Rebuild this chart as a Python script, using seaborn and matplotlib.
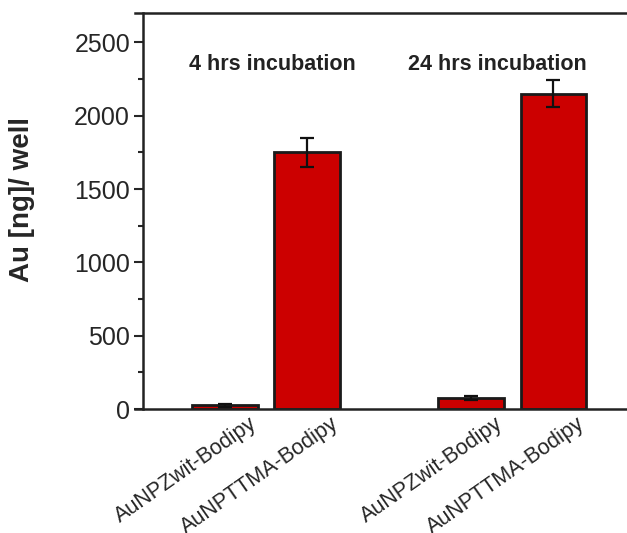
import numpy as np
import pandas as pd
import seaborn as sns
import matplotlib.pyplot as plt
from matplotlib.ticker import MultipleLocator
from matplotlib.transforms import ScaledTranslation

# Datos
groups = ['4 hrs incubation', '24 hrs incubation']
samples = ['AuNPZwit-Bodipy', 'AuNPTTMA-Bodipy']
values = [25, 1750, 75, 2150]
errors = [8, 100, 15, 92]

sns.set_style('ticks')
plt.rcParams['font.family'] = ['Liberation Sans', 'DejaVu Sans']

# posiciones: dos barras por grupo, con un hueco entre grupos
pos = [g * 3 + i for g in range(len(groups)) for i in range(len(samples))]
labels = [s for g in groups for s in samples]
df = pd.DataFrame({'pos': pos, 'value': values, 'label': labels})

fig = plt.figure(figsize=(6.27, 5.33), dpi=100)
ax = fig.add_axes([0.2153, 0.2326, 0.798, 0.743])

sns.barplot(data=df, x='pos', y='value', native_scale=True, color='#cc0000',
            saturation=1, width=0.8, edgecolor='#1a1a1a', linewidth=2,
            errorbar=None, ax=ax)
ax.errorbar(df['pos'], df['value'], yerr=errors, fmt='none', ecolor='#111111',
            elinewidth=1.6, capsize=5, capthick=1.6)

ax.set_xlim(-1.1, 5.0)
ax.set_ylim(0, 2700)
ax.spines['left'].set_position(('data', -1.0))
ax.spines['right'].set_visible(False)
for s in ['left', 'top', 'bottom']:
    ax.spines[s].set_linewidth(1.8)
    ax.spines[s].set_color('#222222')

ax.yaxis.set_major_locator(MultipleLocator(500))
ax.yaxis.set_minor_locator(MultipleLocator(250))
ax.tick_params(axis='y', which='major', length=6.5, width=1.5, labelsize=18, pad=3)
ax.tick_params(axis='y', which='minor', length=3.5, width=1.5)
ax.tick_params(axis='x', length=0, labelsize=15.5, pad=3)

ax.set_xticks(pos)
ax.set_xticklabels(labels, rotation=35, ha='right', rotation_mode='anchor')
offset = ScaledTranslation(17 / 72, 0, fig.dpi_scale_trans)
for t in ax.get_xticklabels():
    t.set_transform(t.get_transform() + offset)

ax.set_xlabel('')
ax.set_ylabel('Au [ng]/ well', fontsize=20, fontweight='bold')
ax.yaxis.set_label_coords(-0.199, 0.53)

# posiciones de los títulos de cada grupo
title_x = [0.57, 3.32]
for name, tx in zip(groups, title_x):
    ax.text(tx, 2350, name, ha='center', va='center',
            fontsize=15.5, fontweight='bold', color='#222222')

fig.savefig('out.png', dpi=100)
